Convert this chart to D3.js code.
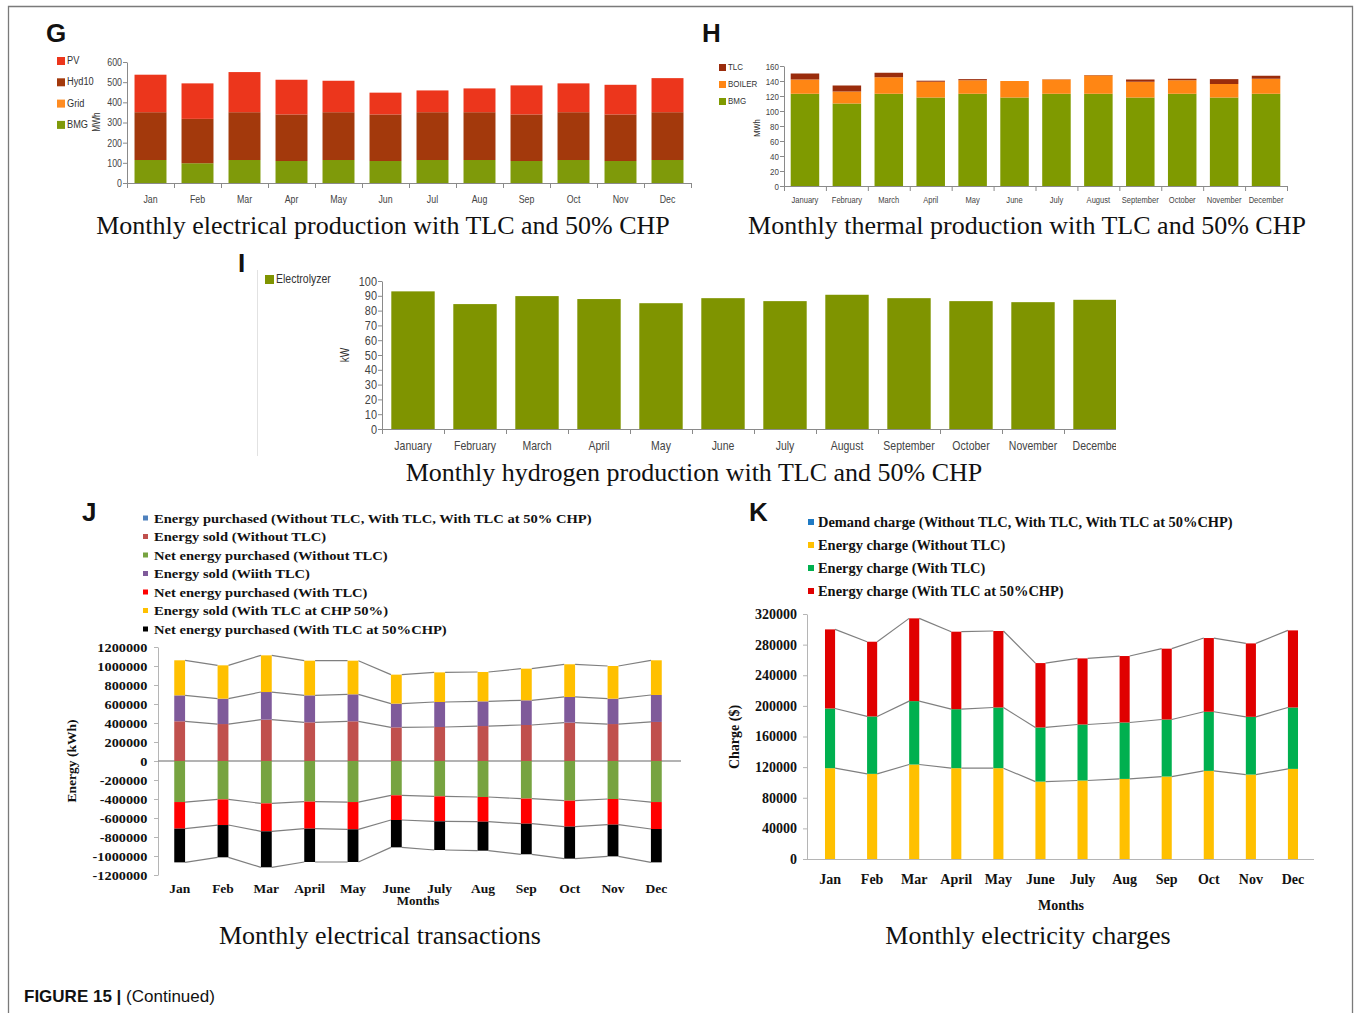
<!DOCTYPE html>
<html>
<head>
<meta charset="utf-8">
<script src="https://cdn.jsdelivr.net/npm/d3@7"></script>
<style>
  body { margin: 0; background: #fff; }
  svg { display: block; }
</style>
</head>
<body>
<svg id="fig" width="1356" height="1013"></svg>
<script>
// ---------- data ----------
const monthsShort = ["Jan", "Feb", "Mar", "Apr", "May", "Jun", "Jul", "Aug", "Sep", "Oct", "Nov", "Dec"];
const monthsLong = ["January", "February", "March", "April", "May", "June", "July", "August", "September", "October", "November", "December"];
const monthsLongCut = ["January", "February", "March", "April", "May", "June", "July", "August", "September", "October", "November", "Decembe"];
const monthsMixed = ["Jan", "Feb", "Mar", "April", "May", "June", "July", "Aug", "Sep", "Oct", "Nov", "Dec"];

// G: monthly electrical production (MWh)
const gBMG = [114, 98, 114, 109, 114, 109, 114, 114, 109, 114, 109, 114];
const gGrid = [0, 0, 0, 0, 0, 0, 0, 0, 0, 0, 0, 0];
const gHyd10 = [237, 220, 237, 231, 237, 231, 237, 237, 231, 237, 231, 237];
const gPV = [186, 176, 199, 172, 156, 108, 108, 118, 144, 143, 147, 169];
const gTicks = [0, 100, 200, 300, 400, 500, 600];

// H: monthly thermal production (MWh)
const hBMG = [123, 110, 123, 118, 123, 118, 123, 123, 118, 123, 118, 123];
const hBoiler = [19, 16, 22, 21, 18, 22, 19, 24.5, 21, 18, 18, 20];
const hTLC = [8, 8, 6, 1.4, 1.5, 0, 0.3, 0.5, 3, 2, 6.5, 4];
const hTicks = [0, 20, 40, 60, 80, 100, 120, 140, 160];

// I: monthly hydrogen production (kW)
const iElectrolyzer = [93, 84.4, 89.8, 87.8, 85, 88.4, 86.4, 90.7, 88.4, 86.4, 85.7, 87.3];
const iTicks = [0, 10, 20, 30, 40, 50, 60, 70, 80, 90, 100];

// J: monthly electrical transactions (kWh)
const jPurchased = [0, 0, 0, 0, 0, 0, 0, 0, 0, 0, 0, 0];
const jSoldNoTLC = [418000, 389000, 435000, 407000, 418000, 354000, 358000, 368000, 379000, 404000, 389000, 411000];
const jNetNoTLC = [-432000, -404000, -446000, -428000, -432000, -361000, -372000, -379000, -396000, -418000, -400000, -432000];
const jSoldTLC = [273000, 267000, 291000, 284000, 284000, 250000, 263000, 260000, 260000, 270000, 267000, 284000];
const jNetTLC = [-280000, -270000, -294000, -284000, -287000, -260000, -263000, -260000, -264000, -273000, -270000, -284000];
const jSoldCHP = [369000, 351000, 386000, 365000, 354000, 305000, 312000, 309000, 333000, 344000, 344000, 365000];
const jNetCHP = [-355000, -340000, -379000, -351000, -344000, -288000, -302000, -305000, -322000, -337000, -334000, -351000];
const jTicks = [-1200000, -1000000, -800000, -600000, -400000, -200000, 0, 200000, 400000, 600000, 800000, 1000000, 1200000];

// K: monthly electricity charges ($)
const kDemand = [0, 0, 0, 0, 0, 0, 0, 0, 0, 0, 0, 0];
const kEnergyNoTLC = [118600, 111200, 123400, 118600, 118600, 101100, 102500, 104600, 107700, 115100, 110300, 117700];
const kEnergyTLC = [78000, 75000, 82800, 77100, 79300, 70700, 73200, 73700, 74500, 77200, 75400, 80200];
const kEnergyCHP = [103300, 97600, 108100, 101200, 99900, 84100, 86300, 86800, 92500, 96300, 95900, 100700];
const kTicks = [0, 40000, 80000, 120000, 160000, 200000, 240000, 280000, 320000];

// ---------- styling ----------
const NARROW = '"Liberation Sans Narrow","Liberation Sans",Arial,sans-serif';
const NARROW_SX = 0.84;          // horizontal squeeze for the condensed labels
const SERIF = '"Liberation Serif","DejaVu Serif",serif';
const SANS = '"Liberation Sans",Arial,sans-serif';

const svg = d3.select("#fig");

// figure frame (open at the bottom)
svg.append("path")
  .attr("d", "M8.5,1013 V6.5 H1352.5 V1013")
  .attr("fill", "none").attr("stroke", "#7a7a7a").attr("stroke-width", 1.3);

function panelLetter(txt, x, y) {
  svg.append("text").attr("x", x).attr("y", y)
    .attr("font-family", SANS).attr("font-weight", "bold").attr("font-size", 26)
    .attr("fill", "#111").text(txt);
}
function caption(txt, x, y) {
  svg.append("text").attr("x", x).attr("y", y).attr("text-anchor", "middle")
    .attr("font-family", SERIF).attr("font-size", 26).attr("fill", "#111").text(txt);
}
// text placed at (x, y) and squeezed horizontally by sx
function squeezed(parent, x, y, sx, txt) {
  return parent.append("text").attr("transform", `translate(${x},${y}) scale(${sx},1)`).text(txt);
}

// ---------- software-style stacked bar panels (G, H, I) ----------
function softPanel(cfg) {
  const g = svg.append("g");
  if (cfg.clip) {
    svg.append("defs").append("clipPath").attr("id", cfg.clip.id)
      .append("rect").attr("x", 0).attr("y", 0).attr("width", cfg.clip.right).attr("height", 1013);
    g.attr("clip-path", `url(#${cfg.clip.id})`);
  }
  const x = d3.scaleBand().domain(cfg.labels).range(cfg.xRange)
    .paddingInner(cfg.pad).paddingOuter(cfg.pad / 2);
  const y = d3.scaleLinear().domain([0, cfg.yMax]).range(cfg.yRange);

  const data = cfg.labels.map((lab, i) => {
    const r = { lab };
    cfg.series.forEach(s => { r[s.key] = s.values[i]; });
    return r;
  });
  const stack = d3.stack().keys(cfg.series.map(s => s.key))(data);
  const color = Object.fromEntries(cfg.series.map(s => [s.key, s.color]));

  g.append("g").selectAll("g").data(stack).join("g")
    .attr("fill", d => color[d.key])
    .selectAll("rect").data(d => d).join("rect")
    .attr("x", d => x(d.data.lab))
    .attr("y", d => y(d[1]))
    .attr("width", x.bandwidth())
    .attr("height", d => Math.max(0, y(d[0]) - y(d[1])));

  // y axis
  const ya = g.append("g").attr("transform", `translate(${cfg.xRange[0]},0)`)
    .call(d3.axisLeft(y).tickValues(cfg.yTicks).tickSize(4).tickSizeOuter(0));
  ya.select(".domain").attr("stroke", "#8a8a8a");
  ya.selectAll(".tick line").attr("stroke", "#8a8a8a");
  ya.selectAll("text").attr("font-family", NARROW).attr("font-size", cfg.tickFont)
    .attr("fill", "#444").attr("x", -6).attr("transform", `scale(${NARROW_SX},1)`);

  // x axis with ticks between bands
  const y0 = y(0);
  g.append("line").attr("x1", cfg.xRange[0]).attr("x2", cfg.xRange[1])
    .attr("y1", y0 + 0.5).attr("y2", y0 + 0.5).attr("stroke", "#8a8a8a");
  g.append("g").selectAll("line").data(d3.range(cfg.labels.length + 1)).join("line")
    .attr("x1", k => cfg.xRange[0] + k * x.step() + 0.5)
    .attr("x2", k => cfg.xRange[0] + k * x.step() + 0.5)
    .attr("y1", y0).attr("y2", y0 + 5).attr("stroke", "#8a8a8a");
  const xl = g.append("g").attr("font-family", NARROW).attr("font-size", cfg.xFont)
    .attr("fill", "#444").attr("text-anchor", "middle");
  cfg.labels.forEach(lab => squeezed(xl, x(lab) + x.bandwidth() / 2, cfg.xLabelY, NARROW_SX, lab));

  // unit label
  g.append("text").attr("transform", `translate(${cfg.unit.x},${cfg.unit.y}) rotate(-90) scale(${NARROW_SX},1)`)
    .attr("text-anchor", "middle").attr("font-family", NARROW)
    .attr("font-size", cfg.unit.size).attr("fill", "#333").text(cfg.unit.text);

  // legend (top entry = last stacked series)
  const leg = svg.append("g").attr("font-family", NARROW).attr("font-size", cfg.legendPos.font).attr("fill", "#333");
  cfg.legend.forEach((s, i) => {
    const ly = cfg.legendPos.y + i * cfg.legendPos.step;
    leg.append("rect").attr("x", cfg.legendPos.x).attr("y", ly - cfg.legendPos.box + 1)
      .attr("width", cfg.legendPos.box).attr("height", cfg.legendPos.box).attr("fill", s.color);
    squeezed(leg, cfg.legendPos.x + cfg.legendPos.box + 2, ly, NARROW_SX, s.name);
  });
}

// ---- G ----
panelLetter("G", 46, 42);
const gSeries = [
  { key: "BMG", name: "BMG", values: gBMG, color: "#7f9a0a" },
  { key: "Grid", name: "Grid", values: gGrid, color: "#ff8c22" },
  { key: "Hyd10", name: "Hyd10", values: gHyd10, color: "#a3390c" },
  { key: "PV", name: "PV", values: gPV, color: "#ec361c" }
];
softPanel({
  labels: monthsShort, xRange: [127, 691], pad: 0.32,
  yMax: 600, yRange: [183, 62], yTicks: gTicks, tickFont: 10.5,
  xLabelY: 203, xFont: 10.5,
  series: gSeries, legend: gSeries.slice().reverse(),
  legendPos: { x: 57, y: 64, step: 21.3, box: 8, font: 11 },
  unit: { x: 100, y: 122, size: 10, text: "MWh" }
});
caption("Monthly electrical production with TLC and 50% CHP", 383, 234);

// ---- H ----
panelLetter("H", 702, 42);
const hSeries = [
  { key: "BMG", name: "BMG", values: hBMG, color: "#7f9a00" },
  { key: "BOILER", name: "BOILER", values: hBoiler, color: "#ff8614" },
  { key: "TLC", name: "TLC", values: hTLC, color: "#9a2c0c" }
];
softPanel({
  labels: monthsLong, xRange: [784, 1287], pad: 0.32,
  yMax: 160, yRange: [186, 66], yTicks: hTicks, tickFont: 9.5,
  xLabelY: 203, xFont: 9,
  series: hSeries, legend: hSeries.slice().reverse(),
  legendPos: { x: 719, y: 70, step: 17, box: 7, font: 9.5 },
  unit: { x: 760, y: 128, size: 9, text: "MWh" }
});
caption("Monthly thermal production with TLC and 50% CHP", 1027, 234);

// ---- I ----
panelLetter("I", 238, 272);
svg.append("line").attr("x1", 257.5).attr("x2", 257.5).attr("y1", 270).attr("y2", 456)
  .attr("stroke", "#e2e2e2");
const iSeries = [{ key: "Electrolyzer", name: "Electrolyzer", values: iElectrolyzer, color: "#7f9400" }];
softPanel({
  labels: monthsLongCut, xRange: [382, 1126], pad: 0.3,
  yMax: 100, yRange: [429, 281], yTicks: iTicks, tickFont: 13,
  xLabelY: 450, xFont: 12.5,
  series: iSeries, legend: iSeries,
  legendPos: { x: 265, y: 283, step: 0, box: 9, font: 12.5 },
  unit: { x: 349, y: 355, size: 12, text: "kW" },
  clip: { id: "clipI", right: 1116 }
});
caption("Monthly hydrogen production with TLC and 50% CHP", 694, 481);

// ---------- spreadsheet-style panels (J, K) ----------
function seriesLines(g, stackData, x, y, bw, outer) {
  stackData.forEach(s => {
    if (s.every(d => d[1] - d[0] === 0)) return;
    for (let i = 0; i < s.length - 1; i++) {
      const a = s[i], b = s[i + 1];
      g.append("line")
        .attr("x1", x(a.data.lab) + bw).attr("y1", y(outer(a)))
        .attr("x2", x(b.data.lab)).attr("y2", y(outer(b)))
        .attr("stroke", "#7f7f7f").attr("stroke-width", 1.2);
    }
  });
}

// ---- J ----
panelLetter("J", 82, 521);
const jSeries = [
  { key: "p", name: "Energy purchased (Without TLC, With TLC, With TLC at 50% CHP)", values: jPurchased, color: "#4f81bd" },
  { key: "s1", name: "Energy sold (Without TLC)", values: jSoldNoTLC, color: "#c0504d" },
  { key: "n1", name: "Net energy purchased (Without TLC)", values: jNetNoTLC, color: "#77a340" },
  { key: "s2", name: "Energy sold (Wiith TLC)", values: jSoldTLC, color: "#7f5a9a" },
  { key: "n2", name: "Net energy purchased (With TLC)", values: jNetTLC, color: "#ff0000" },
  { key: "s3", name: "Energy sold (With TLC at CHP 50%)", values: jSoldCHP, color: "#ffc000" },
  { key: "n3", name: "Net energy purchased (With TLC at 50%CHP)", values: jNetCHP, color: "#000000" }
];
(function () {
  const g = svg.append("g");
  const x = d3.scaleBand().domain(monthsMixed).range([158, 678]).paddingInner(0.75).paddingOuter(0.375);
  const y = d3.scaleLinear().domain([-1200000, 1200000]).range([875, 647]);
  const data = monthsMixed.map((lab, i) => {
    const r = { lab };
    jSeries.forEach(s => { r[s.key] = s.values[i]; });
    return r;
  });
  const st = d3.stack().keys(jSeries.map(s => s.key)).offset(d3.stackOffsetDiverging)(data);
  const col = Object.fromEntries(jSeries.map(s => [s.key, s.color]));
  const bw = x.bandwidth();

  // y axis
  const ya = g.append("g").attr("transform", "translate(158,0)")
    .call(d3.axisLeft(y).tickValues(jTicks).tickFormat(d => String(d)).tickSize(4).tickSizeOuter(0));
  ya.select(".domain").attr("stroke", "#b5b5b5");
  ya.selectAll(".tick line").attr("stroke", "#b5b5b5");
  ya.selectAll("text").attr("font-family", SERIF).attr("font-weight", "bold")
    .attr("font-size", 13.5).attr("fill", "#111").attr("x", -10)
    .attr("transform", "scale(1.06,1)");

  // zero line
  g.append("line").attr("x1", 158).attr("x2", 681).attr("y1", y(0)).attr("y2", y(0))
    .attr("stroke", "#9a9a9a").attr("stroke-width", 1.3);

  seriesLines(g, st, x, y, bw, d => (d[1] > 0 ? d[1] : d[0]));

  g.append("g").selectAll("g").data(st).join("g").attr("fill", d => col[d.key])
    .selectAll("rect").data(d => d).join("rect")
    .attr("x", d => x(d.data.lab)).attr("width", bw)
    .attr("y", d => y(d[1])).attr("height", d => Math.max(0, y(d[0]) - y(d[1])));

  g.append("g").selectAll("text").data(monthsMixed).join("text")
    .attr("x", d => x(d) + bw / 2).attr("y", 893).attr("text-anchor", "middle")
    .attr("font-family", SERIF).attr("font-weight", "bold").attr("font-size", 13.5)
    .attr("fill", "#111").text(d => d);
  g.append("text").attr("x", 418).attr("y", 905).attr("text-anchor", "middle")
    .attr("font-family", SERIF).attr("font-weight", "bold").attr("font-size", 13)
    .attr("fill", "#111").text("Months");
  g.append("text").attr("transform", "translate(76,761) rotate(-90)").attr("text-anchor", "middle")
    .attr("font-family", SERIF).attr("font-weight", "bold").attr("font-size", 13.5)
    .attr("fill", "#111").text("Energy (kWh)");

  // legend
  const leg = g.append("g").attr("font-family", SERIF).attr("font-weight", "bold")
    .attr("font-size", 13).attr("fill", "#111");
  jSeries.forEach((s, i) => {
    const ly = 518 + i * 18.5;
    leg.append("rect").attr("x", 143).attr("y", ly - 2.5).attr("width", 5).attr("height", 5).attr("fill", s.color);
    squeezed(leg, 154, ly + 4.5, 1.12, s.name);
  });
})();
caption("Monthly electrical transactions", 380, 944);

// ---- K ----
panelLetter("K", 749, 521);
const kSeries = [
  { key: "d", name: "Demand charge (Without TLC, With TLC, With TLC at 50%CHP)", values: kDemand, color: "#1f7ac4" },
  { key: "e1", name: "Energy charge (Without TLC)", values: kEnergyNoTLC, color: "#ffc000" },
  { key: "e2", name: "Energy charge (With TLC)", values: kEnergyTLC, color: "#00b04f" },
  { key: "e3", name: "Energy charge (With TLC at 50%CHP)", values: kEnergyCHP, color: "#e00000" }
];
(function () {
  const g = svg.append("g");
  const x = d3.scaleBand().domain(monthsMixed).range([809, 1314]).paddingInner(0.76).paddingOuter(0.38);
  const y = d3.scaleLinear().domain([0, 320000]).range([859, 614]);
  const data = monthsMixed.map((lab, i) => {
    const r = { lab };
    kSeries.forEach(s => { r[s.key] = s.values[i]; });
    return r;
  });
  const st = d3.stack().keys(kSeries.map(s => s.key))(data);
  const col = Object.fromEntries(kSeries.map(s => [s.key, s.color]));
  const bw = x.bandwidth();

  const ya = g.append("g").attr("transform", "translate(807,0)")
    .call(d3.axisLeft(y).tickValues(kTicks).tickFormat(d => String(d)).tickSize(4).tickSizeOuter(0));
  ya.select(".domain").attr("stroke", "#b5b5b5");
  ya.selectAll(".tick line").attr("stroke", "#b5b5b5");
  ya.selectAll("text").attr("font-family", SERIF).attr("font-weight", "bold")
    .attr("font-size", 14).attr("fill", "#111").attr("x", -10);

  g.append("line").attr("x1", 807).attr("x2", 1314).attr("y1", y(0) + 0.5).attr("y2", y(0) + 0.5)
    .attr("stroke", "#b5b5b5").attr("stroke-width", 1.2);

  seriesLines(g, st, x, y, bw, d => d[1]);

  g.append("g").selectAll("g").data(st).join("g").attr("fill", d => col[d.key])
    .selectAll("rect").data(d => d).join("rect")
    .attr("x", d => x(d.data.lab)).attr("width", bw)
    .attr("y", d => y(d[1])).attr("height", d => Math.max(0, y(d[0]) - y(d[1])));

  g.append("g").selectAll("text").data(monthsMixed).join("text")
    .attr("x", d => x(d) + bw / 2).attr("y", 884).attr("text-anchor", "middle")
    .attr("font-family", SERIF).attr("font-weight", "bold").attr("font-size", 14)
    .attr("fill", "#111").text(d => d);
  g.append("text").attr("x", 1061).attr("y", 910).attr("text-anchor", "middle")
    .attr("font-family", SERIF).attr("font-weight", "bold").attr("font-size", 14)
    .attr("fill", "#111").text("Months");
  g.append("text").attr("transform", "translate(739,737) rotate(-90)").attr("text-anchor", "middle")
    .attr("font-family", SERIF).attr("font-weight", "bold").attr("font-size", 14)
    .attr("fill", "#111").text("Charge ($)");

  const leg = g.append("g").attr("font-family", SERIF).attr("font-weight", "bold")
    .attr("font-size", 14).attr("fill", "#111");
  kSeries.forEach((s, i) => {
    const ly = 522 + i * 23;
    leg.append("rect").attr("x", 808).attr("y", ly - 3).attr("width", 6).attr("height", 6).attr("fill", s.color);
    squeezed(leg, 818, ly + 5, 1.03, s.name);
  });
})();
caption("Monthly electricity charges", 1028, 944);

// ---------- figure caption ----------
const fc = svg.append("text").attr("x", 24).attr("y", 1002)
  .attr("font-family", SANS).attr("font-size", 17).attr("fill", "#111");
fc.append("tspan").attr("font-weight", "bold").text("FIGURE 15 | ");
fc.append("tspan").text("(Continued)");
</script>
</body>
</html>
